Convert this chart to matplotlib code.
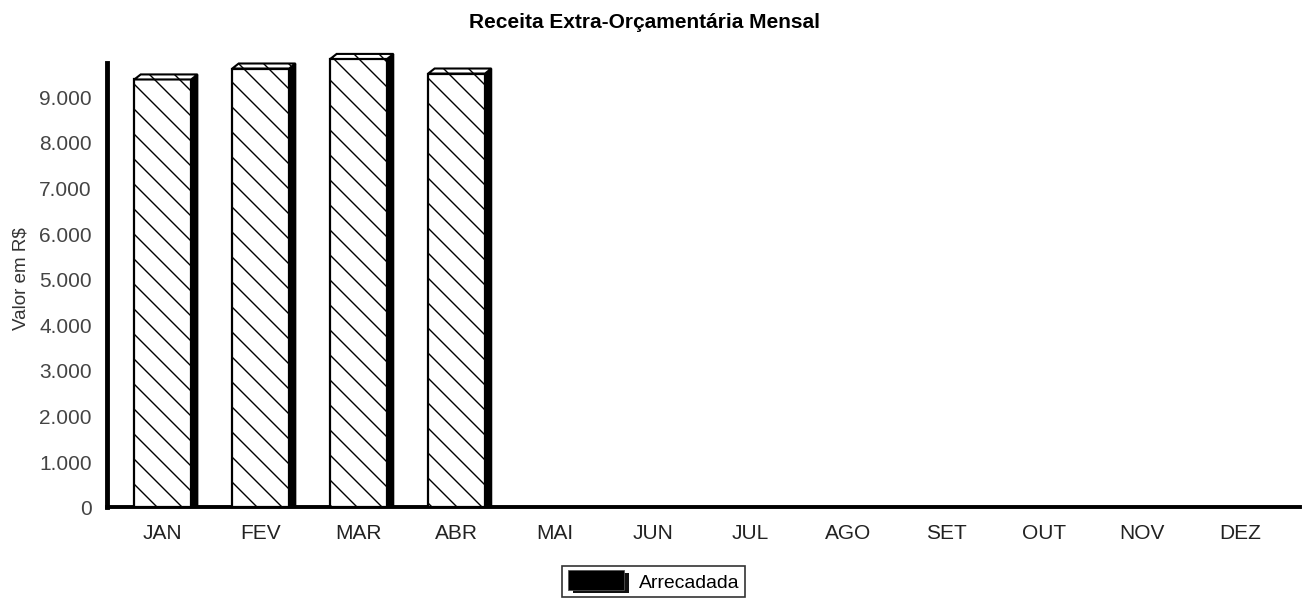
import matplotlib

matplotlib.use("Agg")

import matplotlib.pyplot as plt
from matplotlib.legend_handler import HandlerBase
from matplotlib.patches import Polygon, Rectangle

# figure is drawn at 150 dpi so the hatch spacing matches the original;
# sizes given in points are scaled back to the 100 dpi look
DPI = 150
K = 100 / DPI

plt.rcParams["font.family"] = ["Liberation Sans", "DejaVu Sans"]
plt.rcParams["hatch.linewidth"] = 1.0 * K

MONTHS = ["JAN", "FEV", "MAR", "ABR", "MAI", "JUN",
          "JUL", "AGO", "SET", "OUT", "NOV", "DEZ"]
ARRECADADA = [9370, 9610, 9820, 9500, 0, 0, 0, 0, 0, 0, 0, 0]
Y_TICKS = [0, 1000, 2000, 3000, 4000, 5000, 6000, 7000, 8000, 9000]
Y_TICK_LABELS = ["0", "1.000", "2.000", "3.000", "4.000", "5.000",
                 "6.000", "7.000", "8.000", "9.000"]

BAR_WIDTH = 0.58
DEPTH_X = 0.065
DEPTH_Y = 110


class ShadowBoxHandler(HandlerBase):
    def create_artists(self, legend, orig_handle, xdescent, ydescent,
                       width, height, fontsize, trans):
        w = width * 0.9
        h = height * 1.15
        shadow = Rectangle((width * 0.08 - xdescent, -height * 0.22 - ydescent),
                           w, h, facecolor="#111111", edgecolor="none",
                           transform=trans)
        box = Rectangle((-xdescent, -ydescent - height * 0.05), w, h,
                        facecolor="black", edgecolor="#555555",
                        linewidth=0.6 * K, transform=trans)
        return [shadow, box]


fig = plt.figure(figsize=(1304 / DPI, 603 / DPI), dpi=DPI)
ax = fig.add_axes([0.082, 0.158, 0.915, 0.76])

for i, value in enumerate(ARRECADADA):
    if value <= 0:
        continue
    x0 = i - BAR_WIDTH / 2
    x1 = i + BAR_WIDTH / 2
    ax.add_patch(Rectangle((x0, 0), BAR_WIDTH, value, facecolor="white",
                           edgecolor="black", hatch="\\\\", linewidth=1.6 * K,
                           zorder=3))
    side = [(x1, 0), (x1 + DEPTH_X, DEPTH_Y * 0.3), (x1 + DEPTH_X, value + DEPTH_Y),
            (x1, value)]
    ax.add_patch(Polygon(side, closed=True, facecolor="black",
                         edgecolor="black", linewidth=1.2 * K, zorder=3))
    top = [(x0, value), (x0 + DEPTH_X, value + DEPTH_Y),
           (x1 + DEPTH_X, value + DEPTH_Y), (x1, value)]
    ax.add_patch(Polygon(top, closed=True, facecolor="white", edgecolor="black",
                         hatch="\\\\", linewidth=1.5 * K, zorder=3))

ax.set_xlim(-0.57, 11.61)
ax.set_ylim(0, 10050)
ax.set_xticks(range(len(MONTHS)))
ax.set_xticklabels(MONTHS, fontsize=15 * K, color="#222222")
ax.set_yticks(Y_TICKS)
ax.set_yticklabels(Y_TICK_LABELS, fontsize=15 * K, color="#444444")
ax.tick_params(axis="x", length=0, pad=12 * K)
ax.tick_params(axis="y", length=0, pad=11 * K)

for side_name in ["top", "right"]:
    ax.spines[side_name].set_visible(False)
ax.spines["left"].set_linewidth(3.5 * K)
ax.spines["left"].set_bounds(0, 9720)
ax.spines["bottom"].set_linewidth(2.8 * K)

ax.set_ylabel("Valor em R$", fontsize=13.5 * K, color="#333333", labelpad=7 * K)
fig.text(0.494, 0.962, "Receita Extra-Orçamentária Mensal", ha="center",
         va="center", fontsize=15 * K, fontweight="bold")

legend = fig.legend([object()], ["Arrecadada"], loc="center",
                    bbox_to_anchor=(0.501, 0.0335), fontsize=14 * K, frameon=True,
                    fancybox=False, edgecolor="black", handlelength=3.2,
                    handleheight=1.0, borderpad=0.3, handletextpad=0.45,
                    handler_map={object: ShadowBoxHandler()})
legend.get_frame().set_linewidth(1.2 * K)

fig.savefig("out.png", dpi=DPI)
